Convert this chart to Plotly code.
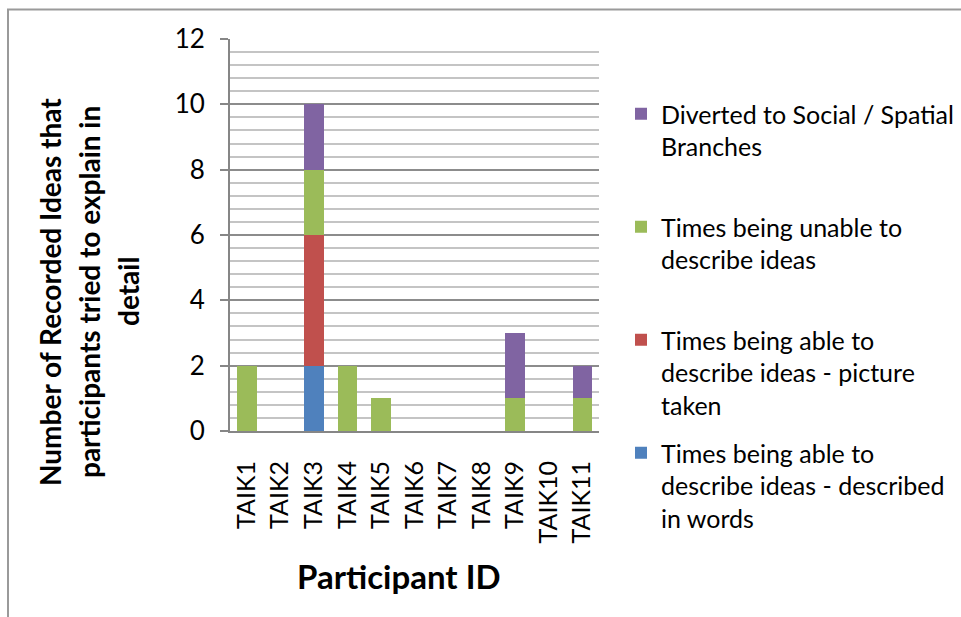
import plotly.graph_objects as go

participants = ["TAIK1", "TAIK2", "TAIK3", "TAIK4", "TAIK5", "TAIK6",
                "TAIK7", "TAIK8", "TAIK9", "TAIK10", "TAIK11"]

described_in_words = [0, 0, 2, 0, 0, 0, 0, 0, 0, 0, 0]
picture_taken = [0, 0, 4, 0, 0, 0, 0, 0, 0, 0, 0]
unable_to_describe = [2, 0, 2, 2, 1, 0, 0, 0, 1, 0, 1]
diverted = [0, 0, 2, 0, 0, 0, 0, 0, 2, 0, 1]

series_names = [
    "Times being able to<br>describe ideas - described<br>in words",
    "Times being able to<br>describe ideas - picture<br>taken",
    "Times being unable to<br>describe ideas<br>\u00a0",
    "Diverted to Social / Spatial<br>Branches<br>\u00a0",
]
series_values = [described_in_words, picture_taken, unable_to_describe, diverted]
series_colors = ["#4F81BD", "#C0504D", "#9BBB59", "#8064A2"]

y_title_lines = ["Number of Recorded Ideas that",
                 "participants tried to explain in",
                 "detail"]
x_title = "Participant ID"

FONT = "Lato, 'Open Sans', sans-serif"
W, H = 961, 617
L, R, T, B = 230, 362, 39, 186
PW, PH = W - L - R, H - T - B


def px_x(px):
    return (px - L) / PW


def px_y(py):
    return (H - B - py) / PH


fig = go.Figure()
n = len(series_names)
for i, (name, vals, col) in enumerate(zip(series_names, series_values, series_colors)):
    fig.add_trace(go.Bar(
        x=participants, y=vals, name=name,
        marker=dict(color=col, line=dict(width=0)),
        legendgroup=f"g{i}", legendrank=n - i,
    ))

annotations = []
for xpx, line in zip([50, 89, 128], y_title_lines):
    annotations.append(dict(
        text=f"<b>{line}</b>", x=px_x(xpx), y=px_y(292), xref="paper", yref="paper",
        textangle=-90, showarrow=False, xanchor="center", yanchor="middle",
        font=dict(family=FONT, size=28, color="#000000"),
    ))
annotations.append(dict(
    text=f"<b>{x_title}</b>", x=px_x(399), y=px_y(576), xref="paper", yref="paper",
    showarrow=False, xanchor="center", yanchor="middle",
    font=dict(family=FONT, size=33, color="#000000"),
))

shapes = [
    dict(type="line", xref="paper", yref="paper", x0=px_x(8), x1=px_x(8),
         y0=px_y(9), y1=px_y(640), line=dict(color="#9A9A9A", width=2)),
    dict(type="line", xref="paper", yref="paper", x0=px_x(7), x1=px_x(1000),
         y0=px_y(9.5), y1=px_y(9.5), line=dict(color="#9A9A9A", width=2)),
]

fig.update_layout(
    width=W, height=H,
    margin=dict(l=L, r=R, t=T, b=B, autoexpand=False),
    paper_bgcolor="white", plot_bgcolor="white",
    barmode="stack", bargap=0.42,
    font=dict(family=FONT, color="#000000"),
    showlegend=True,
    legend=dict(
        x=px_x(621), y=px_y(91), xanchor="left", yanchor="top",
        traceorder="grouped", tracegroupgap=12.5, valign="top",
        font=dict(family=FONT, size=25, color="#000000"),
        bgcolor="rgba(0,0,0,0)", maxheight=600,
    ),
    annotations=annotations,
    shapes=shapes,
)

fig.update_xaxes(
    showline=True, linecolor="#868686", linewidth=2,
    showgrid=False, tickangle=-90, ticks="",
    tickfont=dict(family=FONT, size=25, color="#000000"),
    ticklabelstandoff=18,
)
fig.update_yaxes(
    range=[0, 12], dtick=2, tick0=0,
    showline=True, linecolor="#868686", linewidth=2,
    ticks="outside", ticklen=8, tickcolor="#868686", tickwidth=2,
    showgrid=True, gridcolor="#8C8C8C", gridwidth=1.5,
    zeroline=False,
    minor=dict(dtick=0.4, tick0=0, showgrid=True, gridcolor="#C4C4C4", gridwidth=1.5),
    tickfont=dict(family=FONT, size=26, color="#000000"),
    ticklabelstandoff=10,
)

fig.write_html("out.html", config={"displayModeBar": False},
               post_script="document.body.style.margin='0';")
